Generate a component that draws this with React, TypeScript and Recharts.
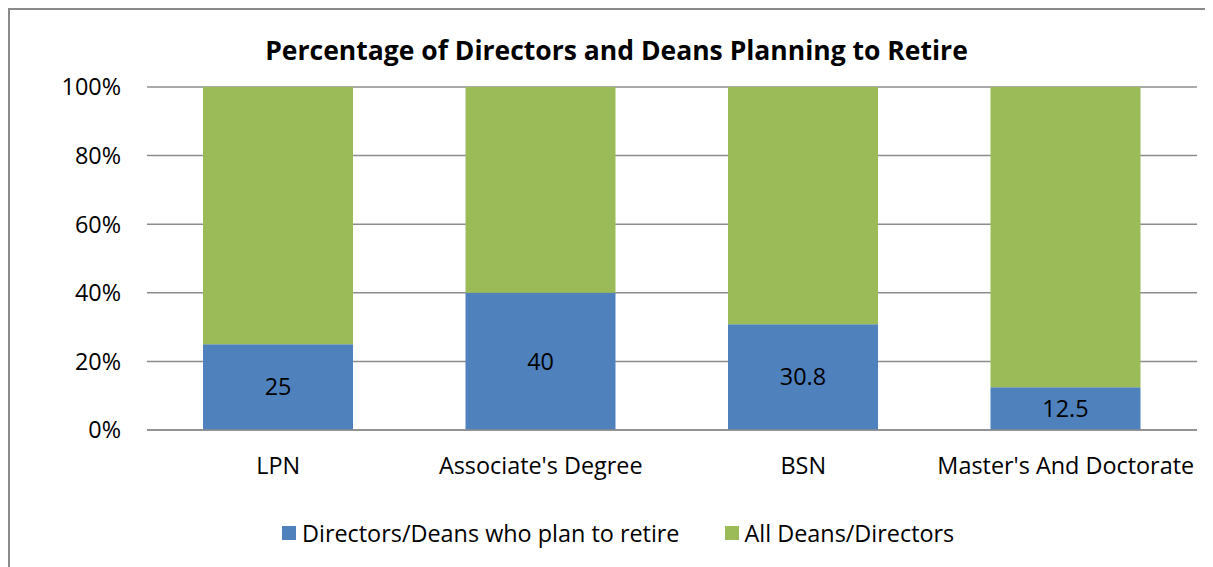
import React from "react";
import { BarChart, Bar, XAxis, YAxis, CartesianGrid, LabelList } from "recharts";

const categories = ["LPN", "Associate's Degree", "BSN", "Master's And Doctorate"];
const retireValues = [25, 40, 30.8, 12.5];
const allValues = [75, 60, 69.2, 87.5];
const yTicks = [0, 20, 40, 60, 80, 100];
const seriesNames = ["Directors/Deans who plan to retire", "All Deans/Directors"];
const title = "Percentage of Directors and Deans Planning to Retire";

const data = categories.map((c, i) => ({ name: c, retire: retireValues[i], all: allValues[i] }));

const FONT = "'Open Sans', sans-serif";
const BLUE = "#4F81BD";
const GREEN = "#9BBB59";
const FS = 23.4;

export default function App() {
  return (
    <div
      style={{
        position: "relative",
        width: 1205,
        height: 559,
        boxSizing: "border-box",
        borderLeft: "2px solid #8a8a8a",
        borderTop: "2px solid #8a8a8a",
        overflow: "hidden",
        background: "#fff",
      }}
    >
      <div
        style={{
          position: "absolute",
          left: 0,
          top: 22,
          width: 1213,
          textAlign: "center",
          fontFamily: FONT,
          fontWeight: "bold",
          fontSize: 26.5,
          lineHeight: "36px",
          color: "#000",
        }}
      >
        <span>{title}</span>
      </div>
      <BarChart
        width={1203}
        height={557}
        data={data}
        margin={{ top: 77, right: 16, bottom: 107, left: 77 }}
        barSize={150}
      >
        <CartesianGrid vertical={false} stroke="#8c8c8c" strokeWidth={1.5} />
        <XAxis
          dataKey="name"
          height={30}
          tickLine={false}
          axisLine={{ stroke: "#8c8c8c", strokeWidth: 1.5 }}
          tickSize={0}
          tickMargin={27}
          tick={{ fontFamily: FONT, fontSize: FS, fill: "#000" }}
        />
        <YAxis
          width={60}
          domain={[0, 100]}
          ticks={yTicks}
          tickFormatter={(v) => `${v}%`}
          axisLine={false}
          tickLine={false}
          tickSize={0}
          tickMargin={26}
          tick={{ fontFamily: FONT, fontSize: FS, fill: "#000" }}
        />
        <Bar dataKey="retire" name={seriesNames[0]} stackId="a" fill={BLUE} isAnimationActive={false}>
          <LabelList dataKey="retire" position="center" style={{ fontFamily: FONT, fontSize: FS, fill: "#000" }} />
        </Bar>
        <Bar dataKey="all" name={seriesNames[1]} stackId="a" fill={GREEN} isAnimationActive={false} />
      </BarChart>
      <div
        style={{
          position: "absolute",
          left: 272,
          top: 507,
          display: "flex",
          alignItems: "center",
          fontFamily: FONT,
          fontSize: FS,
          lineHeight: "32px",
          color: "#000",
          whiteSpace: "nowrap",
        }}
      >
        <span style={{ width: 14, height: 14, background: BLUE, display: "inline-block", marginRight: 6 }} />
        <span>{seriesNames[0]}</span>
        <span style={{ width: 14, height: 14, background: GREEN, display: "inline-block", marginLeft: 45, marginRight: 6 }} />
        <span>{seriesNames[1]}</span>
      </div>
    </div>
  );
}
